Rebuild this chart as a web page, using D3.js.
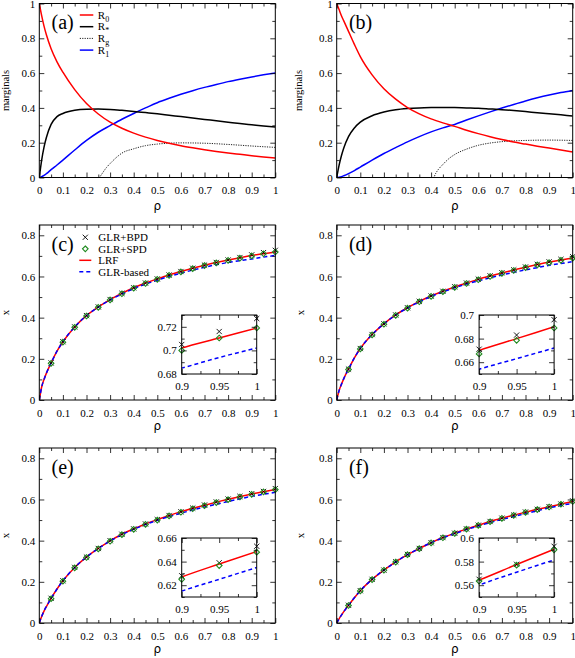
<!DOCTYPE html>
<html>
<head>
<meta charset="utf-8">
<style>
  body { margin: 0; background: #fff; }
  svg { display: block; font-family: 'Liberation Serif', 'Times New Roman', serif; }
</style>
</head>
<body>
<svg width="575" height="658"></svg>
<script src="https://d3js.org/d3.v7.min.js"></script>
<script>
// ---- data ----
const rhoFine = [0, 0.01, 0.02, 0.03, 0.05, 0.075, 0.1, 0.15, 0.2, 0.25, 0.3, 0.35, 0.4, 0.45, 0.5, 0.55, 0.6, 0.65, 0.7, 0.75, 0.8, 0.85, 0.9, 0.95, 1.0];
const rhoPts = [0.05, 0.1, 0.15, 0.2, 0.25, 0.3, 0.35, 0.4, 0.45, 0.5, 0.55, 0.6, 0.65, 0.7, 0.75, 0.8, 0.85, 0.9, 0.95, 1.0];

// panel (a) marginals
const r0A = [1, 0.93, 0.87, 0.82, 0.74, 0.665, 0.605, 0.505, 0.425, 0.365, 0.318, 0.283, 0.255, 0.232, 0.213, 0.197, 0.183, 0.171, 0.16, 0.15, 0.141, 0.133, 0.125, 0.118, 0.112];
const rStarA = [0, 0.1, 0.175, 0.23, 0.305, 0.35, 0.368, 0.386, 0.392, 0.393, 0.391, 0.386, 0.38, 0.373, 0.366, 0.358, 0.35, 0.342, 0.334, 0.326, 0.318, 0.31, 0.303, 0.296, 0.29];
const r1A = [0, 0.005, 0.012, 0.022, 0.045, 0.072, 0.1, 0.158, 0.213, 0.26, 0.298, 0.335, 0.368, 0.4, 0.43, 0.455, 0.478, 0.499, 0.518, 0.535, 0.551, 0.565, 0.578, 0.59, 0.601];
const rgRhoA = [0, 0.255, 0.26, 0.27, 0.285, 0.3, 0.335, 0.35, 0.4, 0.45, 0.5, 0.55, 0.6, 0.7, 0.8, 0.9, 1.0];
const rgA = [0, 0, 0.01, 0.03, 0.058, 0.08, 0.125, 0.14, 0.165, 0.183, 0.192, 0.197, 0.199, 0.197, 0.19, 0.181, 0.173];

// panel (b) marginals
const r0B = [1, 0.965, 0.93, 0.9, 0.84, 0.765, 0.695, 0.59, 0.51, 0.45, 0.402, 0.366, 0.337, 0.314, 0.294, 0.272, 0.252, 0.234, 0.218, 0.204, 0.192, 0.18, 0.169, 0.158, 0.147];
const rStarB = [0, 0.07, 0.125, 0.17, 0.235, 0.285, 0.318, 0.355, 0.376, 0.389, 0.396, 0.4, 0.402, 0.403, 0.402, 0.4, 0.398, 0.394, 0.39, 0.385, 0.379, 0.372, 0.366, 0.36, 0.354];
const r1B = [0, 0.002, 0.005, 0.01, 0.022, 0.04, 0.06, 0.1, 0.138, 0.172, 0.205, 0.235, 0.262, 0.285, 0.305, 0.33, 0.354, 0.377, 0.399, 0.42, 0.44, 0.458, 0.474, 0.488, 0.5];
const rgRhoB = [0, 0.41, 0.42, 0.43, 0.45, 0.475, 0.5, 0.55, 0.6, 0.65, 0.7, 0.8, 0.9, 1.0];
const rgB = [0, 0, 0.025, 0.045, 0.075, 0.108, 0.132, 0.163, 0.185, 0.198, 0.206, 0.213, 0.215, 0.213];

// panel (c)
const lrfC = [0, 0.063, 0.1, 0.13, 0.18, 0.237, 0.283, 0.355, 0.41, 0.452, 0.488, 0.518, 0.545, 0.568, 0.588, 0.607, 0.624, 0.64, 0.655, 0.668, 0.68, 0.691, 0.702, 0.7105, 0.719];
const glrC = [0, 0.063, 0.1, 0.13, 0.18, 0.237, 0.283, 0.355, 0.41, 0.451, 0.486, 0.515, 0.541, 0.563, 0.582, 0.6, 0.616, 0.631, 0.645, 0.657, 0.668, 0.677, 0.685, 0.694, 0.702];
const bpdC = [0.18, 0.283, 0.355, 0.41, 0.452, 0.488, 0.518, 0.545, 0.568, 0.588, 0.607, 0.624, 0.64, 0.655, 0.668, 0.68, 0.692, 0.705, 0.716, 0.727];
const spdC = [0.178, 0.281, 0.353, 0.408, 0.45, 0.486, 0.516, 0.543, 0.566, 0.586, 0.605, 0.622, 0.638, 0.653, 0.666, 0.678, 0.689, 0.7, 0.7105, 0.719];

// panel (d)
const lrfD = [0, 0.045, 0.076, 0.104, 0.15, 0.205, 0.25, 0.318, 0.37, 0.413, 0.448, 0.479, 0.505, 0.528, 0.549, 0.568, 0.586, 0.602, 0.617, 0.631, 0.645, 0.658, 0.67, 0.68, 0.69];
const glrD = [0, 0.045, 0.076, 0.104, 0.15, 0.205, 0.25, 0.318, 0.37, 0.413, 0.447, 0.477, 0.503, 0.525, 0.545, 0.563, 0.579, 0.594, 0.607, 0.62, 0.632, 0.643, 0.654, 0.663, 0.672];
const bpdD = [0.15, 0.25, 0.318, 0.37, 0.413, 0.448, 0.479, 0.505, 0.528, 0.55, 0.568, 0.587, 0.603, 0.618, 0.632, 0.646, 0.659, 0.671, 0.683, 0.696];
const spdD = [0.148, 0.248, 0.316, 0.368, 0.411, 0.446, 0.477, 0.503, 0.526, 0.547, 0.566, 0.584, 0.6, 0.615, 0.629, 0.643, 0.656, 0.667, 0.6785, 0.689];

// panel (e)
const lrfE = [0, 0.032, 0.058, 0.08, 0.12, 0.165, 0.205, 0.27, 0.32, 0.362, 0.399, 0.431, 0.457, 0.481, 0.502, 0.522, 0.54, 0.557, 0.572, 0.587, 0.601, 0.614, 0.627, 0.638, 0.6486];
const glrE = [0, 0.032, 0.058, 0.08, 0.12, 0.165, 0.205, 0.27, 0.32, 0.362, 0.398, 0.429, 0.455, 0.478, 0.499, 0.517, 0.533, 0.549, 0.563, 0.577, 0.59, 0.603, 0.615, 0.625, 0.635];
const bpdE = [0.12, 0.205, 0.27, 0.32, 0.362, 0.4, 0.431, 0.457, 0.481, 0.502, 0.522, 0.54, 0.558, 0.573, 0.588, 0.602, 0.615, 0.628, 0.639, 0.653];
const spdE = [0.118, 0.203, 0.268, 0.318, 0.36, 0.397, 0.429, 0.455, 0.479, 0.5, 0.52, 0.538, 0.555, 0.57, 0.585, 0.599, 0.612, 0.625, 0.6366, 0.648];

// panel (f)
const lrfF = [0, 0.02, 0.038, 0.055, 0.086, 0.123, 0.157, 0.212, 0.257, 0.297, 0.332, 0.362, 0.39, 0.415, 0.436, 0.457, 0.475, 0.493, 0.509, 0.524, 0.538, 0.552, 0.5643, 0.5775, 0.5905];
const glrF = [0, 0.02, 0.038, 0.055, 0.086, 0.123, 0.157, 0.212, 0.257, 0.297, 0.332, 0.362, 0.39, 0.414, 0.434, 0.454, 0.471, 0.488, 0.503, 0.517, 0.531, 0.545, 0.56, 0.571, 0.5814];
const bpdF = [0.086, 0.157, 0.212, 0.257, 0.297, 0.333, 0.362, 0.39, 0.415, 0.436, 0.457, 0.475, 0.493, 0.509, 0.524, 0.539, 0.552, 0.565, 0.5777, 0.593];
const spdF = [0.085, 0.156, 0.211, 0.256, 0.296, 0.332, 0.361, 0.389, 0.414, 0.435, 0.456, 0.474, 0.492, 0.508, 0.523, 0.537, 0.551, 0.5635, 0.577, 0.59];

// ticks
const xTicks = [0, 0.1, 0.2, 0.3, 0.4, 0.5, 0.6, 0.7, 0.8, 0.9, 1];
const xMinor = [0.05, 0.15, 0.25, 0.35, 0.45, 0.55, 0.65, 0.75, 0.85, 0.95];
const yTicksTop = [0, 0.2, 0.4, 0.6, 0.8, 1];
const yMinorTop = [0.1, 0.3, 0.5, 0.7, 0.9];
const yTicksX = [0, 0.2, 0.4, 0.6, 0.8];
const yMinorX = [0.1, 0.3, 0.5, 0.7];
const insetXTicks = [0.9, 0.95, 1];
const insetXMinor = [0.925, 0.975];
const insetYTicksC = [0.68, 0.7, 0.72], insetYMinorC = [0.69, 0.71, 0.73];
const insetYTicksD = [0.66, 0.68, 0.7], insetYMinorD = [0.65, 0.67, 0.69];
const insetYTicksE = [0.62, 0.64, 0.66], insetYMinorE = [0.61, 0.63, 0.65];
const insetYTicksF = [0.56, 0.58, 0.6], insetYMinorF = [0.55, 0.57, 0.59];

const legendA = ["R0", "R*", "Rg", "R1"];
const legendC = ["GLR+BPD", "GLR+SPD", "LRF", "GLR-based"];

// ---- drawing ----
const svg = d3.select("svg");
const RED = "#ff0000", BLUE = "#0000ff", GREEN = "#1f8a1f";
const fmt = d => String(+d.toFixed(3));
const zip = (xs, ys) => xs.map((v, i) => [v, ys[i]]);

function frame(g, x, y, o) {
    const w = x.range()[1], h = y.range()[0];
    const ax = (gen, tv, size, pad, fmtFn, tr) => {
        const a = g.append("g").attr("transform", tr || null)
            .call(gen.tickValues(tv).tickSize(-size).tickPadding(pad).tickFormat(fmtFn));
        a.select(".domain").remove();
        a.selectAll("line").attr("stroke", "#000").attr("stroke-width", 0.8);
        a.selectAll("text").attr("font-size", o.fs || 11).attr("fill", "#000")
            .style("font-family", "'Liberation Serif', serif");
        return a;
    };
    ax(d3.axisBottom(x), o.xt, 5, o.xpad, fmt, `translate(0,${h})`);
    ax(d3.axisBottom(x), o.xm, 3, 0, () => "", `translate(0,${h})`);
    ax(d3.axisTop(x), o.xt, 5, 0, () => "");
    ax(d3.axisTop(x), o.xm, 3, 0, () => "");
    ax(d3.axisLeft(y), o.yt, 5, o.ypad, fmt);
    ax(d3.axisLeft(y), o.ym, 3, 0, () => "");
    ax(d3.axisRight(y), o.yt, 5, 0, () => "", `translate(${w},0)`);
    ax(d3.axisRight(y), o.ym, 3, 0, () => "", `translate(${w},0)`);
    g.append("rect").attr("width", w).attr("height", h)
        .attr("fill", "none").attr("stroke", "#000").attr("stroke-width", 1);
}

let clipN = 0;
function clipFor(g, w, h) {
    const id = "clip" + (clipN++);
    g.append("clipPath").attr("id", id).append("rect").attr("width", w).attr("height", h);
    return g.append("g").attr("clip-path", `url(#${id})`);
}

function curve(g, x, y, pts, color, width, dash) {
    g.append("path")
        .attr("d", d3.line().x(d => x(d[0])).y(d => y(d[1])).curve(d3.curveMonotoneX)(pts))
        .attr("fill", "none").attr("stroke", color).attr("stroke-width", width)
        .attr("stroke-dasharray", dash || null);
}

function crosses(g, x, y, pts) {
    g.selectAll(null).data(pts).join("path")
        .attr("d", d => { const cx = x(d[0]), cy = y(d[1]), r = 2.6;
            return `M${cx - r},${cy - r}L${cx + r},${cy + r}M${cx - r},${cy + r}L${cx + r},${cy - r}`; })
        .attr("stroke", "#000").attr("stroke-width", 0.9).attr("fill", "none");
}

function diamonds(g, x, y, pts) {
    g.selectAll(null).data(pts).join("path")
        .attr("d", d => { const cx = x(d[0]), cy = y(d[1]), r = 2.8;
            return `M${cx},${cy - r}L${cx + r},${cy}L${cx},${cy + r}L${cx - r},${cy}Z`; })
        .attr("stroke", GREEN).attr("stroke-width", 1.1).attr("fill", "none");
}

function subText(g, tx, ty, base, sub) {
    const t = g.append("text").attr("x", tx).attr("y", ty).attr("font-size", 11);
    t.append("tspan").text(base);
    t.append("tspan").attr("font-size", 8).attr("dy", 3).text(sub);
}

const W = 236;
const cols = [39.3, 336.7];

// top row: marginals
const topPanels = [
    { left: cols[0], label: "(a)", r0: r0A, rs: rStarA, r1: r1A, rgRho: rgRhoA, rg: rgA, ylab: 9, legend: true },
    { left: cols[1], label: "(b)", r0: r0B, rs: rStarB, r1: r1B, rgRho: rgRhoB, rg: rgB, ylab: 302, legend: false }
];
topPanels.forEach(p => {
    const top = 3.5, h = 174;
    const g = svg.append("g").attr("transform", `translate(${p.left},${top})`);
    const x = d3.scaleLinear().domain([0, 1]).range([0, W]);
    const y = d3.scaleLinear().domain([0, 1]).range([h, 0]);
    const cg = clipFor(g, W, h);
    curve(cg, x, y, zip(p.rgRho, p.rg), "#222", 1, "1.2,1.2");
    curve(cg, x, y, zip(rhoFine, p.r1), BLUE, 1.5);
    curve(cg, x, y, zip(rhoFine, p.rs), "#000", 1.5);
    curve(cg, x, y, zip(rhoFine, p.r0), RED, 1.5);
    frame(g, x, y, { xt: xTicks, xm: xMinor, yt: yTicksTop, ym: yMinorTop, xpad: 9, ypad: 4 });
    g.append("text").attr("x", 12.2).attr("y", 25.5).attr("font-size", 20).text(p.label);
    svg.append("text").attr("transform", `translate(${p.ylab},${top + h / 2}) rotate(-90)`)
        .attr("text-anchor", "middle").attr("font-size", 10.5).text("marginals");
    svg.append("text").attr("x", p.left + W / 2).attr("y", 209.5).attr("text-anchor", "middle")
        .attr("font-size", 12).style("font-family", "'DejaVu Sans', sans-serif").text("ρ");
    if (p.legend) {
        const colors = [RED, "#000", "#222", BLUE];
        legendA.forEach((name, i) => {
            const ly = 11.5 + i * 11.7;
            g.append("line").attr("x1", 40.5).attr("x2", 54).attr("y1", ly).attr("y2", ly)
                .attr("stroke", colors[i]).attr("stroke-width", i === 2 ? 1 : 1.5)
                .attr("stroke-dasharray", i === 2 ? "1.2,1.2" : null);
            subText(g, 58.5, ly + 3.5, name[0], name.slice(1));
        });
    }
});

// middle and bottom rows: x vs rho
const xPanels = [
    { left: cols[0], top: 225, label: "(c)", lrf: lrfC, glr: glrC, bpd: bpdC, spd: spdC, iyd: [0.68, 0.73], iyt: insetYTicksC, iym: insetYMinorC, ylab: 8.5, legend: true },
    { left: cols[1], top: 225, label: "(d)", lrf: lrfD, glr: glrD, bpd: bpdD, spd: spdD, iyd: [0.65, 0.70], iyt: insetYTicksD, iym: insetYMinorD, ylab: 303.5, legend: false },
    { left: cols[0], top: 448, label: "(e)", lrf: lrfE, glr: glrE, bpd: bpdE, spd: spdE, iyd: [0.61, 0.66], iyt: insetYTicksE, iym: insetYMinorE, ylab: 8.5, legend: false },
    { left: cols[1], top: 448, label: "(f)", lrf: lrfF, glr: glrF, bpd: bpdF, spd: spdF, iyd: [0.55, 0.60], iyt: insetYTicksF, iym: insetYMinorF, ylab: 303.5, legend: false }
];
xPanels.forEach(p => {
    const h = 175;
    const g = svg.append("g").attr("transform", `translate(${p.left},${p.top})`);
    const x = d3.scaleLinear().domain([0, 1]).range([0, W]);
    const y = d3.scaleLinear().domain([0, 0.85]).range([h, 0]);
    const cg = clipFor(g, W, h);
    crosses(g, x, y, zip(rhoPts, p.bpd));
    diamonds(g, x, y, zip(rhoPts, p.spd));
    curve(cg, x, y, zip(rhoFine, p.lrf), RED, 1.5);
    curve(cg, x, y, zip(rhoFine, p.glr), BLUE, 1.5, "4,3");
    frame(g, x, y, { xt: xTicks, xm: xMinor, yt: yTicksX, ym: yMinorX, xpad: 9, ypad: 4 });
    g.append("text").attr("x", 12.2).attr("y", 26).attr("font-size", 20).text(p.label);
    svg.append("text").attr("transform", `translate(${p.ylab},${p.top + h / 2}) rotate(-90)`)
        .attr("text-anchor", "middle").attr("font-size", 11).text("x");
    svg.append("text").attr("x", p.left + W / 2).attr("y", p.top + 205).attr("text-anchor", "middle")
        .attr("font-size", 12).style("font-family", "'DejaVu Sans', sans-serif").text("ρ");

    if (p.legend) {
        legendC.forEach((name, i) => {
            const ly = 12.3 + i * 11.5;
            if (i === 0) crosses(g, d => d, d => d, [[46, ly]]);
            if (i === 1) diamonds(g, d => d, d => d, [[46, ly]]);
            if (i >= 2) g.append("line").attr("x1", 40).attr("x2", 52).attr("y1", ly).attr("y2", ly)
                .attr("stroke", i === 2 ? RED : BLUE).attr("stroke-width", 1.5)
                .attr("stroke-dasharray", i === 3 ? "4,3" : null);
            g.append("text").attr("x", 59).attr("y", ly + 4).attr("font-size", 11).text(name);
        });
    }

    // inset
    const iw = 75, ih = 59;
    const ig = g.append("g").attr("transform", `translate(142.4,90)`);
    ig.append("rect").attr("width", iw).attr("height", ih).attr("fill", "#fff");
    const ix = d3.scaleLinear().domain([0.9, 1]).range([0, iw]);
    const iy = d3.scaleLinear().domain(p.iyd).range([ih, 0]);
    const icg = clipFor(ig, iw, ih);
    const n = rhoPts.length;
    crosses(ig, ix, iy, zip(rhoPts.slice(n - 3), p.bpd.slice(n - 3)));
    diamonds(ig, ix, iy, zip(rhoPts.slice(n - 3), p.spd.slice(n - 3)));
    curve(icg, ix, iy, zip(rhoFine, p.lrf), RED, 1.5);
    curve(icg, ix, iy, zip(rhoFine, p.glr), BLUE, 1.5, "4,3");
    frame(ig, ix, iy, { xt: insetXTicks, xm: insetXMinor, yt: p.iyt, ym: p.iym, xpad: 8, ypad: 5 });
});
</script>
</body>
</html>
